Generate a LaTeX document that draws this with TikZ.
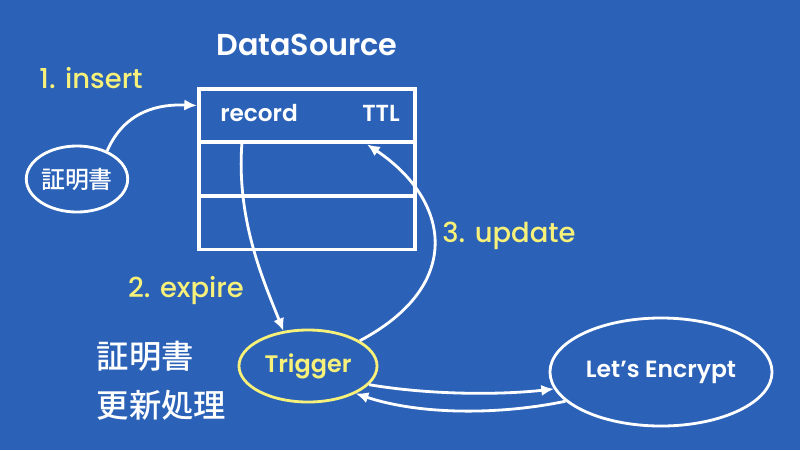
\documentclass[tikz,border=0pt]{standalone}
\usepackage{fontspec}
\setmainfont{Poppins}[BoldFont={Poppins SemiBold}]
\newfontfamily\stepfont{Poppins Medium}
\newfontfamily\jpfont{Noto Sans CJK JP Medium}
\usetikzlibrary{positioning,shapes.geometric,arrows.meta,calc}
\definecolor{slidebg}{RGB}{43,98,184}
\definecolor{hilite}{RGB}{247,241,122}

\begin{document}
\begin{tikzpicture}[x=0.025cm, y=-0.025cm,
    row/.style={draw=white, line width=2.6pt, minimum width=5.4cm, minimum height=1.34cm, inner sep=0pt, outer sep=0pt},
    celltext/.style={text=white, font=\bfseries\fontsize{16.5}{18}\selectfont, inner sep=0pt},
    bubble/.style={ellipse, draw=white, line width=2pt, text=white, inner sep=0pt},
    flow/.style={draw=white, line width=2pt, -{Latex[length=9pt,width=8pt]}},
    stepnote/.style={text=hilite, font=\stepfont\fontsize{19.5}{22}\selectfont}]
    \path[use as bounding box, fill=slidebg] (0,0) rectangle (800,450);

    % table
    \node[text=white, font=\bfseries\fontsize{21.5}{24}\selectfont] (dstitle) at (307,45) {DataSource};
    \node[row] (row1) at (307,115.5) {};
    \node[row, below=0pt of row1] (row2) {};
    \node[row, below=0pt of row2] (row3) {};
    \node[celltext, anchor=west] (rec) at ($(row1.west)+(21,-2)$) {record};
    \node[celltext, anchor=east] (ttl) at ($(row1.east)+(-15,-2)$) {TTL};

    % nodes
    \node[bubble, minimum width=2.45cm, minimum height=1.65cm, font=\jpfont\fontsize{17}{20}\selectfont] (cert) at (77,179) {証明書};
    \node[bubble, draw=hilite, text=hilite, minimum width=3.45cm, minimum height=1.8cm, font=\bfseries\fontsize{17}{18}\selectfont] (trig) at (308,366) {Trigger};
    \node[bubble, minimum width=5.55cm, minimum height=2.7cm, font=\bfseries\fontsize{16.7}{20}\selectfont] (le) at (661,372) {Let’s Encrypt};
    \node[text=white, align=left, anchor=west, font=\jpfont\fontsize{23}{35}\selectfont] (jobname) at (92,381) {証明書\\更新処理};

    % steps
    \node[stepnote] (insertlbl) at (91,78) {1. insert};
    \node[stepnote] (expirelbl) at (186,291) {2. expire};
    \node[stepnote] (updatelbl) at (509,236) {3. update};

    \draw[flow] (cert.43) .. controls (125,110) and (160,104) .. ($(row1.west)+(-2,-10)$);
    \draw[flow] ($(row2.north west)+(43,0)$) .. controls (236,220) and (264,282) .. (trig.125);
    \draw[flow] (trig.26) .. controls (465,285) and (450,200) .. ($(row1.south)+(60,2)$);
    \draw[flow] (trig.-17) .. controls (430,395) and (500,395) .. (le.189);
    \draw[flow] (le.197) .. controls (500,415) and (420,415) .. (trig.-30);
\end{tikzpicture}
\end{document}
